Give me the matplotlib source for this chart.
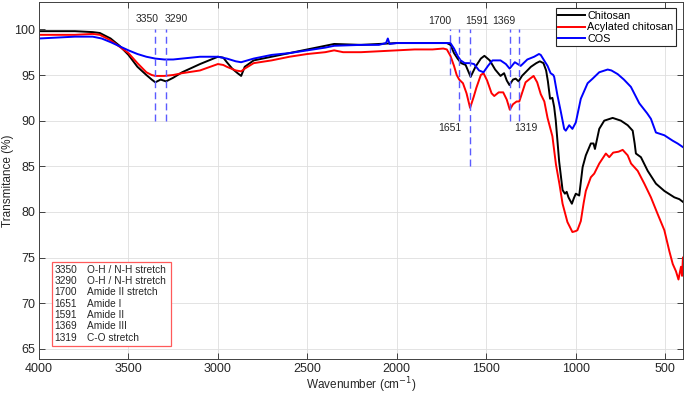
import matplotlib
matplotlib.use("Agg")
import matplotlib.pyplot as plt
import matplotlib.patches as patches

plt.rcParams['font.family'] = ['Liberation Sans', 'DejaVu Sans']

# FTIR spectra (wavenumber, transmittance %)
chitosan_wn = [4000, 3800, 3700, 3660, 3620, 3600, 3550, 3500, 3450, 3400, 3370, 3350,
               3320, 3290, 3250, 3200, 3100, 3000, 2970, 2950, 2920, 2890, 2870, 2850,
               2800, 2700, 2600, 2500, 2400, 2350, 2200, 2000, 1800, 1720, 1700, 1680,
               1660, 1640, 1615, 1600, 1587, 1560, 1530, 1510, 1480, 1450, 1420, 1400,
               1385, 1370, 1350, 1335, 1319, 1300, 1280, 1250, 1220, 1200, 1180, 1165,
               1155, 1143, 1130, 1120, 1111, 1092, 1073, 1060, 1050, 1040, 1021, 1010,
               999, 980, 961, 943, 915, 900, 892, 868, 840, 793, 747, 709, 681, 670,
               663, 635, 597, 551, 504, 448, 420, 400]
chitosan_t = [99.8, 99.8, 99.7, 99.6, 99.2, 99.0, 98.2, 97.2, 95.9, 95.0, 94.5, 94.2,
              94.5, 94.3, 94.7, 95.3, 96.2, 97.0, 96.9, 96.4, 95.7, 95.2, 94.9, 95.9,
              96.6, 97.0, 97.4, 97.8, 98.2, 98.4, 98.3, 98.5, 98.5, 98.5, 98.3, 97.4,
              96.8, 96.3, 96.1, 95.4, 94.8, 95.9, 96.8, 97.1, 96.6, 95.6, 94.9, 95.2,
              94.4, 93.9, 94.5, 94.6, 94.3, 94.9, 95.3, 95.9, 96.3, 96.5, 96.3, 95.5,
              94.3, 92.4, 92.5, 91.5, 90.0, 85.5, 82.4, 82.0, 82.2, 81.6, 80.9, 81.5,
              82.0, 81.8, 84.9, 86.2, 87.5, 87.5, 86.9, 89.1, 90.0, 90.3, 90.0, 89.5,
              88.9, 87.5, 86.4, 86.0, 84.5, 83.1, 82.3, 81.6, 81.4, 81.1]

acylated_wn = [4000, 3800, 3700, 3660, 3640, 3600, 3550, 3500, 3450, 3400, 3370, 3350,
               3300, 3250, 3200, 3100, 3000, 2970, 2950, 2900, 2870, 2850, 2800, 2700,
               2600, 2500, 2400, 2350, 2300, 2200, 2000, 1900, 1800, 1740, 1720, 1700,
               1680, 1665, 1651, 1630, 1610, 1590, 1570, 1555, 1530, 1515, 1495, 1470,
               1455, 1430, 1405, 1385, 1368, 1350, 1330, 1315, 1300, 1280, 1255, 1235,
               1215, 1195, 1175, 1157, 1130, 1110, 1090, 1073, 1046, 1018, 1000, 990,
               971, 955, 943, 915, 896, 868, 831, 812, 790, 760, 737, 709, 690, 653,
               616, 579, 542, 504, 476, 457, 439, 425, 411, 405, 400]
acylated_t = [99.4, 99.4, 99.5, 99.4, 99.2, 98.8, 98.1, 97.4, 96.3, 95.3, 95.0, 94.9,
              94.9, 95.0, 95.2, 95.5, 96.2, 96.1, 95.9, 95.5, 95.4, 95.7, 96.3, 96.6,
              97.0, 97.3, 97.5, 97.7, 97.5, 97.5, 97.7, 97.8, 97.8, 97.9, 97.8, 97.1,
              96.0, 95.0, 94.5, 94.1, 93.0, 91.4, 92.6, 93.6, 95.0, 95.2, 94.4, 93.0,
              92.7, 93.1, 93.1, 92.3, 91.2, 91.8, 92.1, 92.1, 93.0, 94.2, 94.6, 94.9,
              94.2, 92.9, 92.1, 90.3, 88.3, 85.2, 83.0, 80.9, 78.9, 77.8, 77.9, 78.0,
              79.0, 81.0, 82.3, 83.8, 84.2, 85.3, 86.4, 86.0, 86.5, 86.6, 86.8, 86.2,
              85.3, 84.5, 83.1, 81.6, 79.8, 78.0, 75.7, 74.3, 73.5, 72.6, 74.0, 73.0,
              75.0]

cos_wn = [4000, 3800, 3700, 3650, 3600, 3500, 3450, 3400, 3350, 3300, 3250, 3200,
          3100, 3000, 2950, 2900, 2870, 2800, 2700, 2600, 2500, 2400, 2350, 2200,
          2100, 2060, 2050, 2040, 2000, 1900, 1800, 1700, 1680, 1660, 1643, 1620,
          1591, 1568, 1540, 1515, 1490, 1465, 1420, 1390, 1369, 1340, 1307, 1270,
          1232, 1205, 1195, 1170, 1157, 1140, 1125, 1120, 1102, 1083, 1064, 1055,
          1036, 1018, 999, 971, 933, 905, 868, 821, 800, 765, 730, 691, 644, 600,
          579, 551, 504, 457, 430, 400]
cos_t = [99.0, 99.2, 99.2, 99.0, 98.6, 97.7, 97.3, 97.0, 96.8, 96.7, 96.7, 96.8,
         97.0, 97.0, 96.8, 96.5, 96.4, 96.8, 97.2, 97.4, 97.7, 98.0, 98.2, 98.3,
         98.3, 98.5, 99.0, 98.4, 98.5, 98.5, 98.5, 98.5, 97.9, 97.1, 96.6, 96.3,
         96.3, 96.2, 95.5, 95.3, 96.0, 96.6, 96.6, 96.2, 95.7, 96.4, 96.0, 96.7,
         97.0, 97.3, 97.2, 96.4, 96.0, 95.2, 95.0, 94.8, 92.8, 91.0, 89.1, 88.9,
         89.5, 89.1, 89.8, 92.4, 94.1, 94.6, 95.3, 95.6, 95.5, 95.1, 94.5, 93.7,
         91.9, 90.8, 90.2, 88.7, 88.4, 87.8, 87.5, 87.1]

# marked peaks
peaks = [3350, 3290, 1700, 1651, 1591, 1369, 1319]
peak_low = [90, 90, 95, 90, 85, 90, 90]
peak_names = ['O-H / N-H stretch', 'O-H / N-H stretch', 'Amide II stretch',
              'Amide I', 'Amide II', 'Amide III', 'C-O stretch']

# label placement (x in wavenumber, y in %)
label_x = [3397, 3234, 1759, 1703, 1553, 1400, 1279]
label_y = [101.1, 101.1, 100.9, 89.2, 100.9, 100.9, 89.2]

fig = plt.figure(figsize=(6.85, 3.94), dpi=100)
ax = fig.add_axes([0.057, 0.089, 0.940, 0.906])

ax.plot(chitosan_wn, chitosan_t, color='black', lw=1.4, label='Chitosan')
ax.plot(acylated_wn, acylated_t, color='red', lw=1.4, label='Acylated chitosan')
ax.plot(cos_wn, cos_t, color='blue', lw=1.4, label='COS')

for p, lo in zip(peaks, peak_low):
    ax.plot([p, p], [lo, 100], color='#5b5bff', lw=1.0, ls=(0, (5, 3)))
for p, lx, ly in zip(peaks, label_x, label_y):
    ax.text(lx, ly, str(p), ha='center', va='center', fontsize=7.5, color='#262626')

ax.set_xlim(4000, 400)
ax.set_ylim(63.9, 103)
ax.set_xticks([4000, 3500, 3000, 2500, 2000, 1500, 1000, 500])
ax.set_yticks([65, 70, 75, 80, 85, 90, 95, 100])
ax.grid(True, color='#dedede', lw=0.6)
ax.set_axisbelow(True)
ax.tick_params(direction='in', top=True, right=True, labelsize=9, colors='#262626',
               length=4, width=0.6, pad=3)
for s in ax.spines.values():
    s.set_color('#404040')
    s.set_linewidth(0.7)

ax.set_xlabel('Wavenumber (cm$^{-1}$)', fontsize=8.5, color='#262626', va='center')
ax.xaxis.set_label_coords(0.5, -0.074)
ax.set_ylabel('Transmitance (%)', fontsize=8.5, color='#262626', va='center')
ax.yaxis.set_label_coords(-0.048, 0.5)

leg = ax.legend(loc='upper right', fontsize=7.8, frameon=True, fancybox=False,
                framealpha=1, edgecolor='#262626', borderpad=0.25, labelspacing=0.12,
                handlelength=2.5, handletextpad=0.2, borderaxespad=0.6)
leg.get_frame().set_linewidth(0.8)

# peak assignment box
ax.add_patch(patches.Rectangle((0.0197, 0.0364), 0.1853, 0.2346, transform=ax.transAxes,
                               facecolor='white', edgecolor='#ff5a5a', lw=0.9, zorder=5))
row_top = 0.250
row_step = 0.0317
for i, (p, name) in enumerate(zip(peaks, peak_names)):
    yy = row_top - i * row_step
    ax.text(0.0238, yy, str(p), transform=ax.transAxes, fontsize=7.3,
            va='center', ha='left', color='#262626', zorder=6)
    ax.text(0.074, yy, name, transform=ax.transAxes, fontsize=7.3,
            va='center', ha='left', color='#262626', zorder=6)

fig.savefig('out.png', dpi=100)
